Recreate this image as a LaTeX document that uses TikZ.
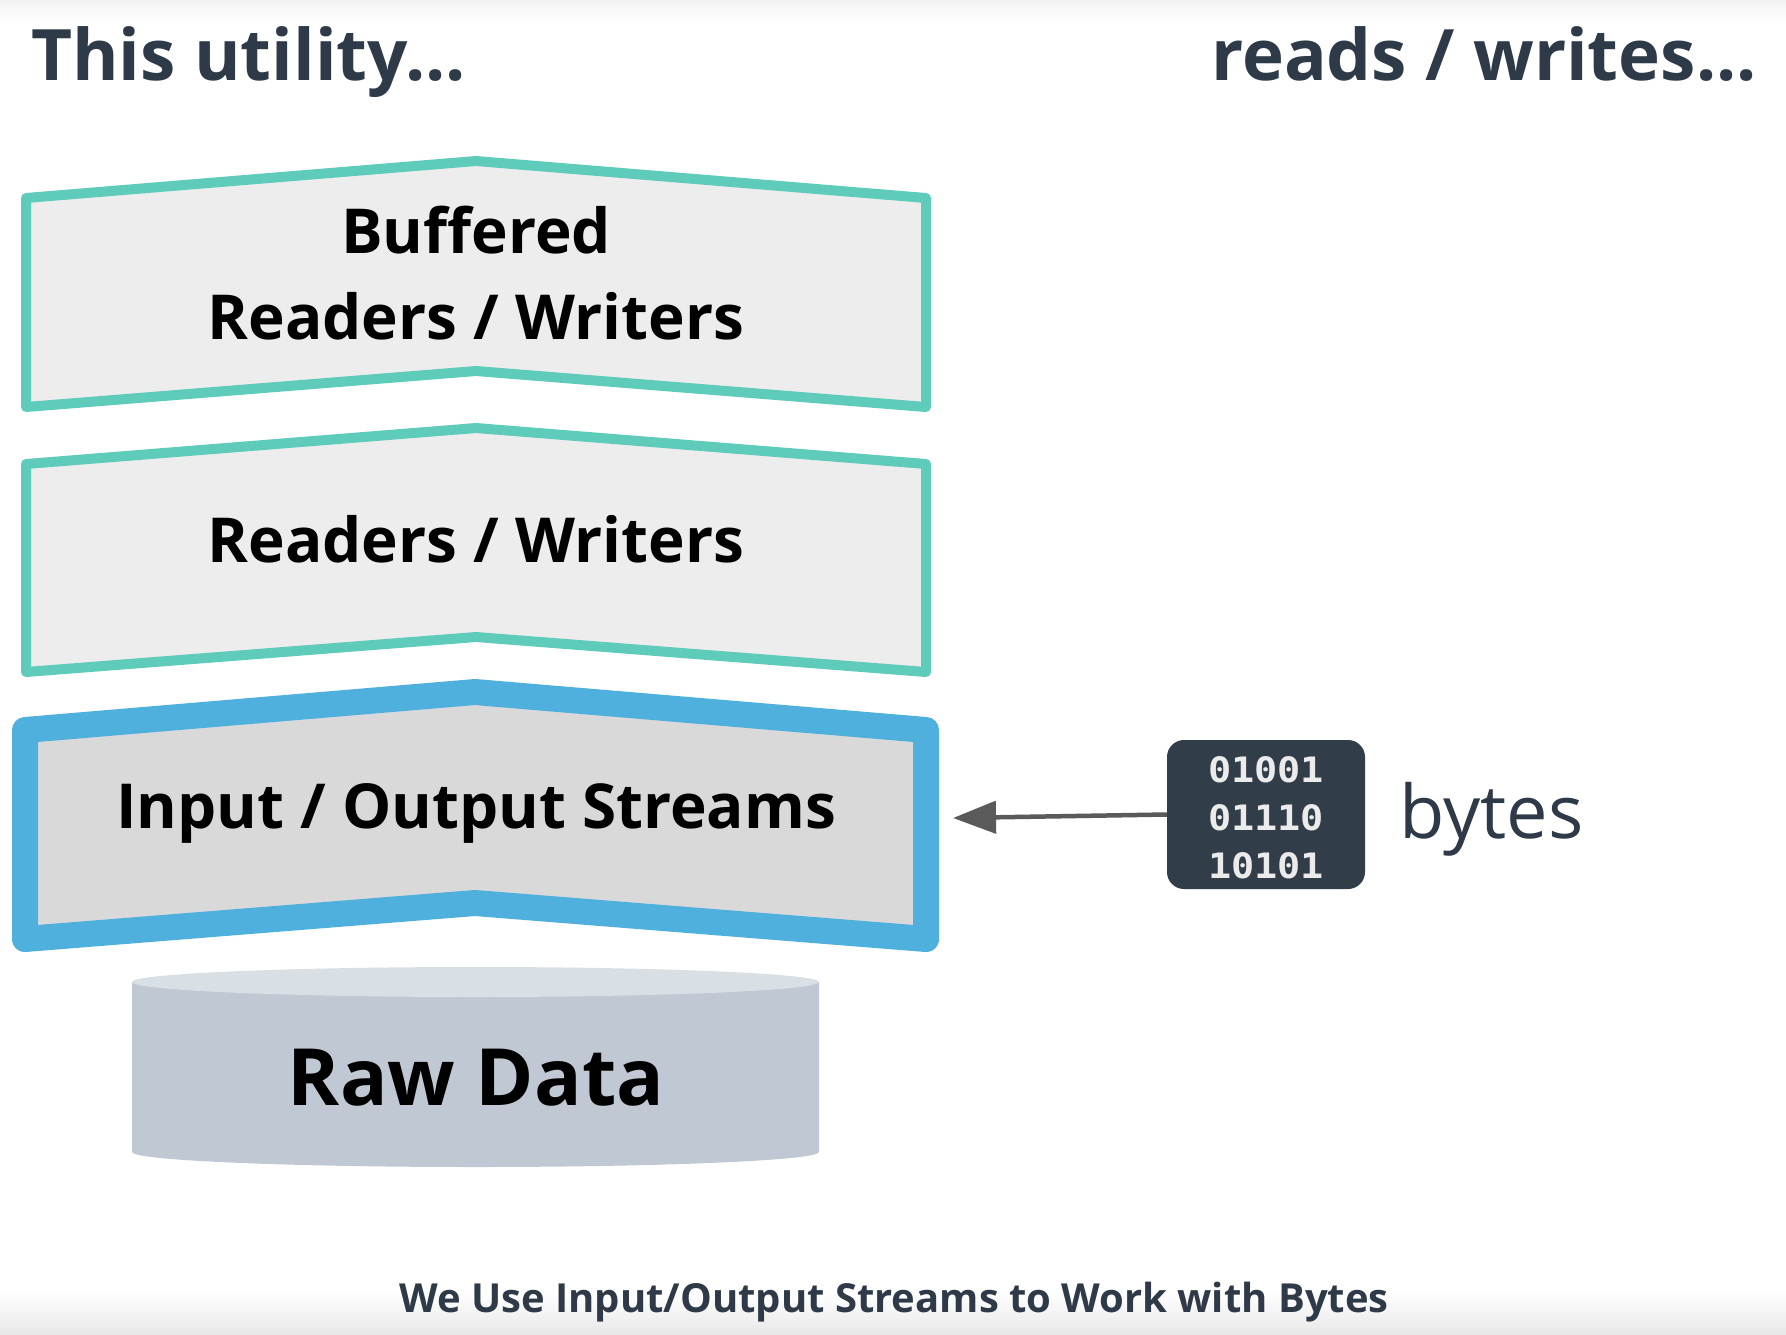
\documentclass[tikz,border=0pt]{standalone}
\usepackage{fontspec}
\setmainfont{Open Sans}
\newfontfamily\monof{DejaVu Sans Mono}
\usetikzlibrary{arrows.meta,shapes.geometric}
\definecolor{teal1}{HTML}{5ECBBB}
\definecolor{blue1}{HTML}{4FB0DE}
\definecolor{fillA}{HTML}{EDEDED}
\definecolor{fillB}{HTML}{D9D9D9}
\definecolor{cylbody}{HTML}{C0C8D4}
\definecolor{cyltop}{HTML}{D8DFE5}
\definecolor{darktxt}{HTML}{2F3A48}
\definecolor{boxdark}{HTML}{323D4A}
\definecolor{arrowgray}{HTML}{5A5A5A}
\begin{document}
\begin{tikzpicture}[x=1pt,y=-1pt,
  layer/.style={draw=teal1,fill=fillA,line width=10pt,line join=round},
  iolayer/.style={draw=blue1,fill=fillB,line width=26pt,line join=round},
  lbl/.style={inner sep=0pt,anchor=base,font=\bfseries\fontsize{62}{70}\selectfont,text=black},
  head/.style={inner sep=0pt,font=\bfseries\fontsize{71}{80}\selectfont,text=darktxt}]
\useasboundingbox (0,0) rectangle (1786,1334);
\fill[white] (0,0) rectangle (1786,1334);
\shade[top color=black!5,bottom color=white] (0,0) rectangle (1786,22);
\shade[top color=white,bottom color=black!9] (0,1292) rectangle (1786,1334);
% titles
\node[head,anchor=base west] (t1) at (31,80) {This utility...};
\node[head,anchor=base east] (t2) at (1757,80) {reads / writes...};
% layers
\draw[layer] (26,198) -- (476,161) -- (926,198) -- (926,407) -- (476,371) -- (26,407) -- cycle;
\node[lbl] (buf1) at (476,253) {Buffered};
\node[lbl] (buf2) at (476,339) {Readers / Writers};
\draw[layer] (26,464) -- (476,428) -- (926,464) -- (926,672) -- (476,637) -- (26,672) -- cycle;
\node[lbl] (rw) at (476,562) {Readers / Writers};
\draw[iolayer] (25,730) -- (475,692) -- (926,730) -- (926,939) -- (475,903) -- (25,939) -- cycle;
\node[lbl] (io) at (476,828) {Input / Output Streams};
% cylinder
\fill[cylbody] (132,982) -- (132,1152) arc[start angle=180,end angle=0,x radius=343.5,y radius=15] -- (819,982) -- cycle;
\fill[cyltop] (475.5,982) ellipse[x radius=343.5,y radius=15];
\node[lbl,font=\bfseries\fontsize{79}{90}\selectfont] (raw) at (476,1105) {Raw Data};
% bytes box
\node[fill=boxdark,rounded corners=17pt,minimum width=198pt,minimum height=149pt,inner sep=0pt] (bytes) at (1266,814.5) {};
\node[inner sep=0pt,text=black!8,align=center,font=\monof\bfseries\fontsize{35}{48}\selectfont] (bits) at (1266,818)
  {\scalebox{1.1}[1]{01001}\\\scalebox{1.1}[1]{01110}\\\scalebox{1.1}[1]{10101}};
\node[inner sep=0pt,anchor=base west,font=\fontsize{74}{80}\selectfont,text=darktxt] (bl) at (1399,838) {bytes};
\coordinate (tip) at (953,818);
\draw[arrowgray,line width=4.5pt,-{Triangle[length=43pt,width=32pt]}] (bytes.west) -- (tip);
% caption
\node[inner sep=0pt,anchor=base,font=\bfseries\fontsize{40}{44}\selectfont,text=darktxt] (cap) at (894,1312) {We Use Input/Output Streams to Work with Bytes};
\end{tikzpicture}
\end{document}
